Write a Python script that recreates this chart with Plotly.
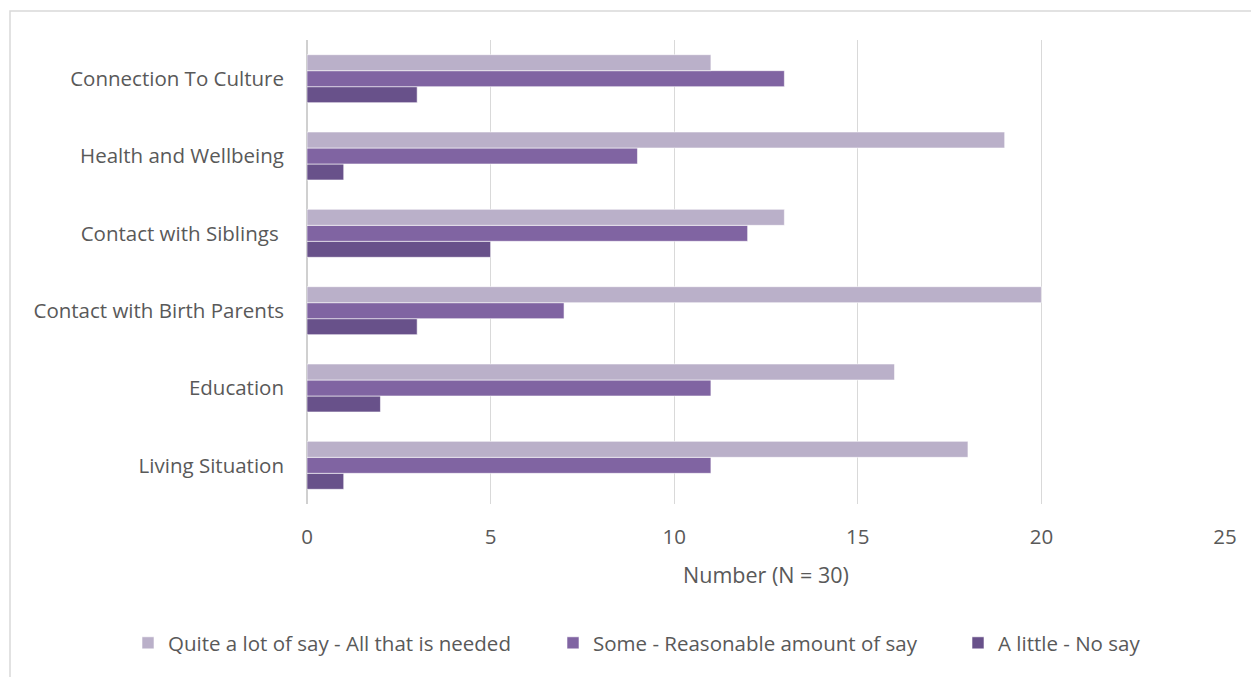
import plotly.graph_objects as go

categories = ["Connection To Culture", "Health and Wellbeing", "Contact with Siblings ",
              "Contact with Birth Parents", "Education", "Living Situation"]
quite_a_lot = [11, 19, 13, 20, 16, 18]
some = [13, 9, 12, 7, 11, 11]
a_little = [3, 1, 5, 3, 2, 1]
x_ticks = [0, 5, 10, 15, 20, 25]

series_names = ["Quite a lot of say - All that is needed",
                "Some - Reasonable amount of say",
                "A little - No say"]
colors = ["#BAB0C9", "#8064A2", "#68518A"]

FONT = "Open Sans"
TXT = "#595959"
FS = 20.5

W, H = 1251, 677
L, R, T, B = 307, 26, 40, 173
pw, ph = W - L - R, H - T - B

def px2paper_x(px):
    return (px - L) / pw

def px2paper_y(py):
    return (H - B - py) / ph

legend_ids = ["legend", "legend2", "legend3"]
legend_left_px = [146 - 18, 571 - 18, 976 - 18]

fig = go.Figure()
# add in reverse so that the light bar is drawn on top within each group
for name, vals, col, lid in reversed(list(zip(series_names, [quite_a_lot, some, a_little],
                                               colors, legend_ids))):
    fig.add_trace(go.Bar(
        y=categories, x=vals, name=name, orientation="h", legend=lid,
        marker=dict(color=col, line=dict(color="rgba(255,255,255,0.7)", width=0.8)),
    ))

legends = {}
for lid, lx in zip(legend_ids, legend_left_px):
    legends[lid] = dict(orientation="h", xref="container", yref="container",
                        x=lx / W, xanchor="left", y=1 - 643 / H, yanchor="middle",
                        font=dict(family=FONT, size=FS, color=TXT),
                        itemwidth=30, bgcolor="rgba(0,0,0,0)", borderwidth=0)

fig.update_layout(
    width=W, height=H,
    margin=dict(l=L, r=R, t=T, b=B, pad=0, autoexpand=False),
    paper_bgcolor="white", plot_bgcolor="white",
    barmode="group", bargap=0.38, bargroupgap=0,
    font=dict(family=FONT, size=FS, color=TXT),
    showlegend=True,
    **legends,
    xaxis=dict(range=[0, 25], tickvals=x_ticks, showgrid=True, gridcolor="#D9D9D9",
               gridwidth=1, zeroline=True, zerolinecolor="#D0D0D0", zerolinewidth=1.5,
               showline=False, ticks="", ticklabelstandoff=18,
               tickfont=dict(family=FONT, size=FS, color=TXT),
               title=dict(text="Number (N = 30)", standoff=19,
                          font=dict(family=FONT, size=FS + 1, color=TXT))),
    yaxis=dict(categoryorder="array", categoryarray=list(reversed(categories)),
               showgrid=False, zeroline=False, showline=False, ticks="",
               ticklabelstandoff=22,
               tickfont=dict(family=FONT, size=FS, color=TXT)),
    shapes=[dict(type="rect", xref="paper", yref="paper",
                 x0=px2paper_x(10), x1=px2paper_x(1280),
                 y0=px2paper_y(700), y1=px2paper_y(11),
                 line=dict(color="#D9D9D9", width=1.5), fillcolor="rgba(0,0,0,0)",
                 layer="below")],
)

fig.write_html("out.html")
